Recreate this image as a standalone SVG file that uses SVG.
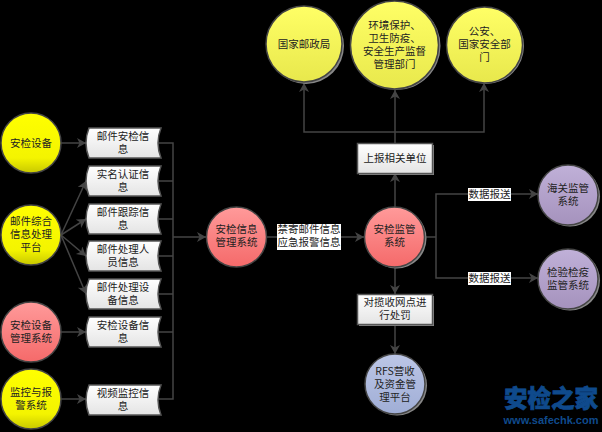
<svg xmlns="http://www.w3.org/2000/svg" width="602" height="432" viewBox="0 0 602 432">
<style>
text{font-family:"Noto Sans CJK SC","Liberation Sans",sans-serif;font-size:10.500px;fill:#222;text-anchor:middle}
.c{stroke:#444;stroke-width:1.5}
.s{fill:#888}
.l{fill:none;stroke:#444;stroke-width:1.5}
.a{fill:none;stroke:#444;stroke-width:1.5;marker-end:url(#ar)}
.d{fill:url(#w);stroke:#555;stroke-width:1.5}
.b{fill:url(#w);stroke:#555;stroke-width:1.5}
</style>
<defs>
<linearGradient id="yl" x1="0" y1="0" x2="0" y2="1"><stop offset="0" stop-color="#ffff00"/><stop offset=".75" stop-color="#f4f400"/><stop offset="1" stop-color="#c8c800"/></linearGradient>
<linearGradient id="yp" x1="0" y1="0" x2="0" y2="1"><stop offset="0" stop-color="#ffff66"/><stop offset="1" stop-color="#e8e84c"/></linearGradient>
<linearGradient id="rd" x1="0" y1="0" x2="0" y2="1"><stop offset="0" stop-color="#ff9a9a"/><stop offset="1" stop-color="#f56a6a"/></linearGradient>
<linearGradient id="pu" x1="0" y1="0" x2="0" y2="1"><stop offset="0" stop-color="#c0b0d8"/><stop offset="1" stop-color="#a592bd"/></linearGradient>
<linearGradient id="bl" x1="0" y1="0" x2="0" y2="1"><stop offset="0" stop-color="#bcc6e6"/><stop offset="1" stop-color="#a0aed6"/></linearGradient>
<linearGradient id="w" x1="0" y1="0" x2="0" y2="1"><stop offset="0" stop-color="#ffffff"/><stop offset="1" stop-color="#e4e4e4"/></linearGradient>
<marker id="ar" markerUnits="userSpaceOnUse" markerWidth="12" markerHeight="12" refX="9" refY="5" orient="auto"><path d="M0 0L9 5L0 10L2.500 5Z" fill="#444"/></marker>
<path id="doc" d="M3 0H75Q69 15 75 30H3Q-3 15 3 0Z" class="d"/>
</defs>
<rect width="602" height="432" fill="#000"/>
<g id="connectors">
<path class="a" d="M61 143H86"/>
<path class="a" d="M61 235L86 181"/>
<path class="a" d="M61 235L86 219"/>
<path class="a" d="M61 235L86 256"/>
<path class="a" d="M61 235L86 294"/>
<path class="a" d="M61 332H86"/>
<path class="a" d="M61 399H86"/>
<path class="l" d="M158 143H173V399H158M158 181H173M158 219H173M158 256H173M158 294H173M158 332H173"/>
<path class="a" d="M173 237H206"/>
<path class="a" d="M266 237H364"/>
<path class="a" d="M395 207V173"/>
<path class="a" d="M395 143V90"/>
<path class="a" d="M395 132H304V83"/>
<path class="a" d="M395 132H484V83"/>
<path class="a" d="M395 267V294"/>
<path class="a" d="M395 324V354"/>
<path class="l" d="M425 237H436"/>
<path class="a" d="M436 237V194H538"/>
<path class="a" d="M436 237V278H538"/>
</g>
<g id="n1"><circle class="c" cx="31" cy="143" r="30" fill="url(#yl)"/><text x="31" y="147">安检设备</text></g>
<g id="n2"><circle class="c" cx="31" cy="235" r="30" fill="url(#yl)"/><text x="31" y="225">邮件综合</text><text x="31" y="238">信息处理</text><text x="31" y="251">平台</text></g>
<g id="n3"><circle class="c" cx="31" cy="332" r="30" fill="url(#rd)"/><text x="31" y="329">安检设备</text><text x="31" y="342">管理系统</text></g>
<g id="n4"><circle class="c" cx="31" cy="399" r="30" fill="url(#yl)"/><text x="31" y="396">监控与报</text><text x="31" y="409">警系统</text></g>
<g id="d1"><use href="#doc" x="86" y="128"/><text x="123" y="140">邮件安检信</text><text x="123" y="153">息</text></g>
<g id="d2"><use href="#doc" x="86" y="166"/><text x="123" y="178">实名认证信</text><text x="123" y="191">息</text></g>
<g id="d3"><use href="#doc" x="86" y="204"/><text x="123" y="216">邮件跟踪信</text><text x="123" y="229">息</text></g>
<g id="d4"><use href="#doc" x="86" y="241"/><text x="123" y="253">邮件处理人</text><text x="123" y="266">员信息</text></g>
<g id="d5"><use href="#doc" x="86" y="279"/><text x="123" y="291">邮件处理设</text><text x="123" y="304">备信息</text></g>
<g id="d6"><use href="#doc" x="86" y="317"/><text x="123" y="329">安检设备信</text><text x="123" y="342">息</text></g>
<g id="d7"><use href="#doc" x="86" y="385"/><text x="123" y="397">视频监控信</text><text x="123" y="410">息</text></g>
<g id="n5"><circle class="c" cx="236.500" cy="237" r="30" fill="url(#rd)"/><text x="236.500" y="233">安检信息</text><text x="236.500" y="246">管理系统</text></g>
<g id="lb1"><rect x="277" y="224" width="64" height="26" fill="#fff"/><text x="309" y="233">禁寄邮件信息</text><text x="309" y="246">应急报警信息</text></g>
<g id="n6"><circle class="s" cx="396.500" cy="238.500" r="30"/><circle class="c" cx="394.500" cy="237" r="30" fill="url(#rd)"/><text x="394.500" y="233">安检监管</text><text x="394.500" y="246">系统</text></g>
<g id="r1"><rect x="359" y="145" width="75" height="30" class="s"/><rect x="357.500" y="143.500" width="75" height="30" class="b"/><text x="395" y="162">上报相关单位</text></g>
<g id="r2"><rect x="359" y="296" width="75" height="30" class="s"/><rect x="357.500" y="294.500" width="75" height="30" class="b"/><text x="395" y="306">对揽收网点进</text><text x="395" y="319">行处罚</text></g>
<g id="t1"><circle class="s" cx="306" cy="46" r="38"/><circle class="c" cx="304" cy="44" r="38" fill="url(#yp)"/><text x="304" y="48">国家邮政局</text></g>
<g id="t2"><circle class="s" cx="396.500" cy="46" r="44"/><circle class="c" cx="394.500" cy="45" r="44" fill="url(#yp)"/><text x="394.500" y="29">环境保护、</text><text x="394.500" y="42">卫生防疫、</text><text x="394.500" y="55">安全生产监督</text><text x="394.500" y="68">管理部门</text></g>
<g id="t3"><circle class="s" cx="486" cy="46" r="38"/><circle class="c" cx="484.500" cy="45" r="38" fill="url(#yp)"/><text x="484.500" y="35">公安、</text><text x="484.500" y="48">国家安全部</text><text x="484.500" y="61">门</text></g>
<g id="n7"><circle class="s" cx="397" cy="385.500" r="30"/><circle class="c" cx="395" cy="384" r="30" fill="url(#bl)"/><text x="395" y="375">RFS营收</text><text x="395" y="388">及资金管</text><text x="395" y="401">理平台</text></g>
<g id="lb2"><rect x="468" y="188" width="43" height="13" fill="#fff"/><text x="489.500" y="198">数据报送</text></g>
<g id="lb3"><rect x="468" y="272" width="43" height="13" fill="#fff"/><text x="489.500" y="282">数据报送</text></g>
<g id="n8"><circle class="s" cx="570" cy="196.500" r="30"/><circle class="c" cx="568" cy="195" r="30" fill="url(#pu)"/><text x="568" y="192">海关监管</text><text x="568" y="205">系统</text></g>
<g id="n9"><circle class="s" cx="570" cy="280.500" r="30"/><circle class="c" cx="568" cy="279" r="30" fill="url(#pu)"/><text x="568" y="276">检验检疫</text><text x="568" y="289">监管系统</text></g>
<text x="551" y="407" style="font-weight:900;font-size:23.500px;fill:#0f4a8c;stroke:#0f4a8c;stroke-width:.8">安检之家</text>
<text x="551" y="424" style="font-family:'Liberation Sans',sans-serif;font-weight:bold;font-size:11px;fill:#0f4a8c">www.safechk.com</text>
</svg>
